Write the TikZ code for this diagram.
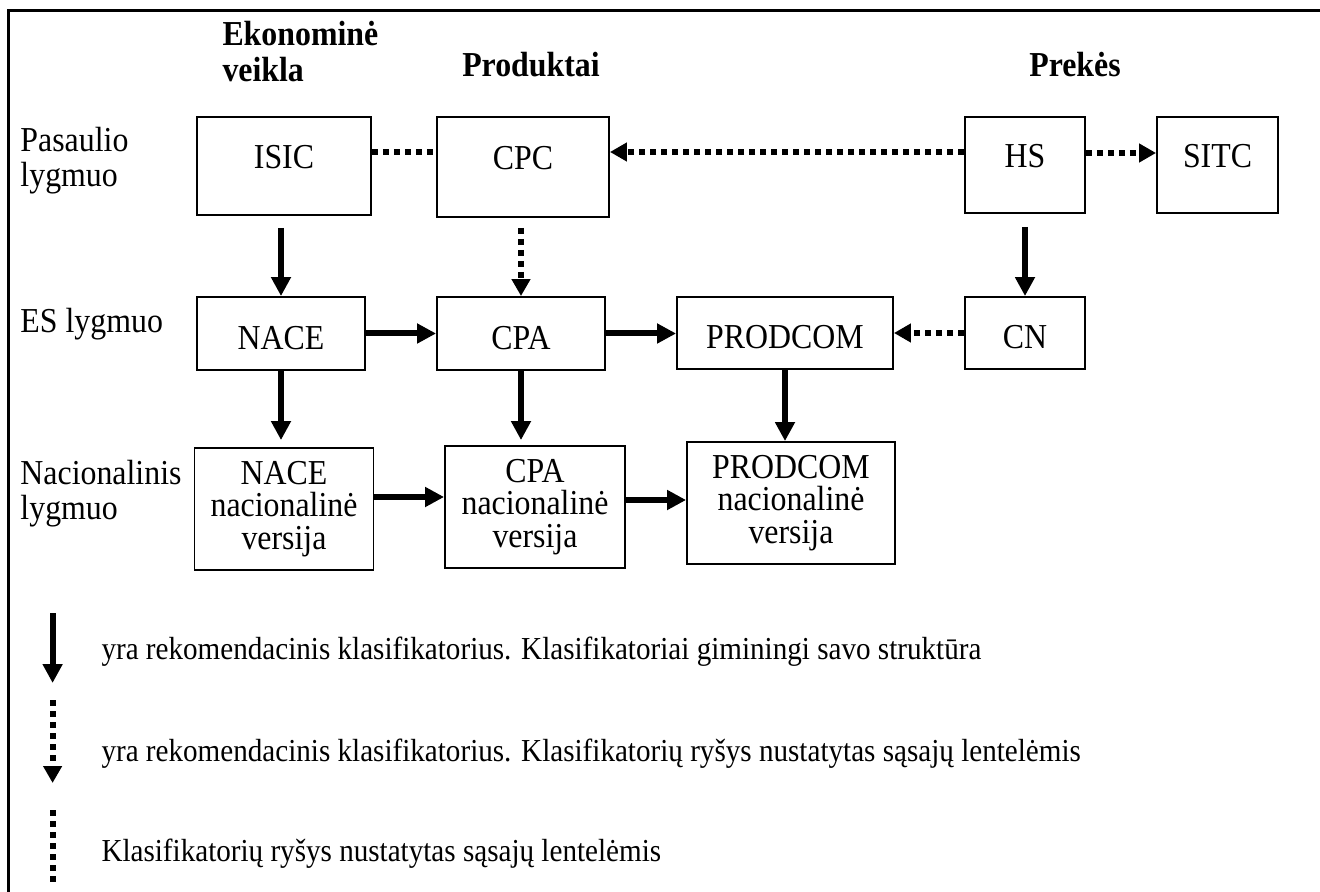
\documentclass[tikz,border=0pt]{standalone}
\usepackage{fontspec}
\setmainfont{Liberation Serif}[FakeStretch=0.91]
\usepackage{tikz}
\usetikzlibrary{arrows.meta,calc}
\tikzset{
	cls/.style={draw, line width=0.75pt, inner sep=0pt, align=center, font=\fontsize{14}{13}\selectfont},
	toprow/.style={cls, text depth=7.2pt},
	midrow/.style={cls, text height=12.6pt},
	lbl/.style={inner sep=0pt, align=left, font=\fontsize{14}{14}\selectfont},
	keytext/.style={inner sep=0pt, font=\fontsize{12.8}{14}\selectfont},
	hdr/.style={inner sep=0pt, align=left, font=\fontsize{14}{14.4}\selectfont\bfseries},
	full/.style={line width=2.4pt, -{Triangle[width=7.6pt,length=7.6pt]}},
	dots/.style={line width=2.4pt, dash pattern=on 2.4pt off 2pt},
	dotarrow/.style={dots, -{Triangle[width=7.2pt,length=6.8pt]}}
}

\begin{document}
\begin{tikzpicture}[x=0.4pt, y=-0.4pt]
			%%%%% START %%%%%
			\useasboundingbox (0,0) rectangle (1320,892);
			\draw[line width=1.2pt] (8,892) -- (8,11) -- (1320,11);
			
			\node[hdr, anchor=west] (ekon) at (222,52) {Ekonominė\\veikla};
			\node[hdr, anchor=base] (prod) at (531,77) {Produktai};
			\node[hdr, anchor=base] (prek) at (1075,77) {Prekės};
			
			\node[lbl, anchor=west] (world) at (20,161) {Pasaulio\\lygmuo};
			\node[lbl, anchor=base west] (eu) at (20,333) {ES lygmuo};
			\node[lbl, anchor=west] (natl) at (20,494) {Nacionalinis\\lygmuo};
			
			\node[toprow, minimum width=69.6pt, minimum height=39.2pt] (isic) at (284,166) {ISIC};
			\node[toprow, minimum width=68.8pt, minimum height=40pt] (cpc) at (523,167) {CPC};
			\node[toprow, minimum width=48pt, minimum height=38.4pt] (hs) at (1025,165) {HS};
			\node[toprow, minimum width=48.4pt, minimum height=38.4pt] (sitc) at (1217.5,165) {SITC};
			
			\node[midrow, minimum width=67.2pt, minimum height=29.2pt] (nace) at (281,333.5) {NACE};
			\node[midrow, minimum width=67.2pt, minimum height=29.2pt] (cpa) at (521,333.5) {CPA};
			\node[midrow, minimum width=86.4pt, minimum height=28.8pt] (prodcom) at (785,333) {PRODCOM};
			\node[midrow, minimum width=48pt, minimum height=28.8pt] (cn) at (1025,333) {CN};
			
			\node[cls, minimum width=71.6pt, minimum height=48.8pt] (nacenat) at (284,509) {NACE\\nacionalinė\\versija};
			\node[cls, minimum width=72pt, minimum height=48.8pt] (cpanat) at (535,507) {CPA\\nacionalinė\\versija};
			\node[cls, minimum width=83.2pt, minimum height=48.8pt] (prodnat) at (791,503) {PRODCOM\\nacionalinė\\versija};
			
			% world level links
			\draw[dots] ([yshift=5.6pt]isic.east) -- ([yshift=5.6pt]isic.east -| cpc.west);
			\draw[dotarrow] ([yshift=5.2pt]hs.west) -- ([yshift=5.2pt]hs.west -| cpc.east);
			\draw[dotarrow] ([yshift=4.8pt]hs.east) -- ([yshift=4.8pt]hs.east -| sitc.west);
			
			% down to EU level
			\draw[full, shorten <=4.8pt] (isic.south -| nace.north) -- (nace.north);
			\draw[dotarrow, shorten <=4pt] (cpc.south -| cpa.north) -- (cpa.north);
			\draw[full, shorten <=5.2pt] (hs.south -| cn.north) -- (cn.north);
			
			% EU level links
			\draw[full] (nace.east) -- (nace.east -| cpa.west);
			\draw[full] (cpa.east) -- (cpa.east -| prodcom.west);
			\draw[dotarrow] (cn.west) -- (cn.west -| prodcom.east);
			
			% down to national level
			\draw[full, shorten >=2.8pt] (nace.south) -- (nace.south |- nacenat.north);
			\draw[full, shorten >=2pt] (cpa.south) -- (cpa.south |- cpanat.north);
			\draw[full] (prodcom.south) -- (prodcom.south |- prodnat.north);
			
			\draw[full] ([yshift=4.8pt]nacenat.east) -- ([yshift=4.8pt]nacenat.east -| cpanat.west);
			\draw[full] ([yshift=2.8pt]cpanat.east) -- ([yshift=2.8pt]cpanat.east -| prodnat.west);
			
			% legend
			\coordinate (k1a) at (52.6,613);
			\coordinate (k1b) at (52.6,683);
			\coordinate (k2a) at (52.6,700);
			\coordinate (k2b) at (52.6,783);
			\coordinate (k3a) at (52.6,810);
			\coordinate (k3b) at (52.6,883);
			\draw[full] (k1a) -- (k1b);
			\draw[dotarrow] (k2a) -- (k2b);
			\draw[dots] (k3a) -- (k3b);
			\node[keytext, anchor=base west] (key1) at (101,659) {yra rekomendacinis klasifikatorius. Klasifikatoriai giminingi savo struktūra};
			\node[keytext, anchor=base west] (key2) at (101,761) {yra rekomendacinis klasifikatorius. Klasifikatorių ryšys nustatytas sąsajų lentelėmis};
			\node[keytext, anchor=base west] (key3) at (101,861) {Klasifikatorių ryšys nustatytas sąsajų lentelėmis};
			%%%%% END %%%%%
		\end{tikzpicture}
\end{document}
